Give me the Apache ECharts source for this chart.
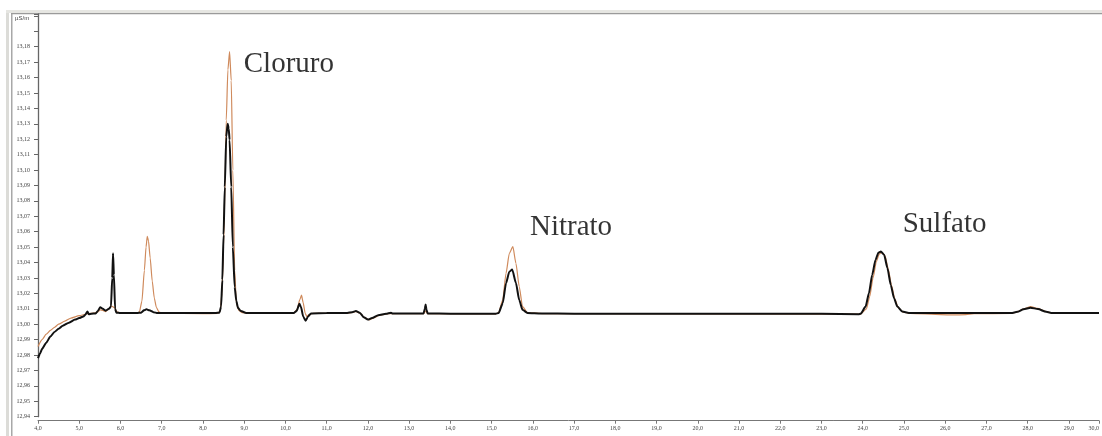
<!DOCTYPE html>
<html>
<head>
<meta charset="utf-8">
<script src="https://cdn.jsdelivr.net/npm/echarts@6/dist/echarts.min.js"></script>
<style>
html,body{margin:0;padding:0;background:#fff;}
#c{width:1102px;height:436px;}
</style>
</head>
<body>
<div id="c"></div>
<script>
// Black trace (time in min, conductivity in µS/m)
const blackTime = [4.00,4.05,4.10,4.20,4.30,4.40,4.50,4.60,4.75,4.90,5.00,5.10,5.15,5.20,5.23,5.30,5.40,5.45,5.51,5.57,5.64,5.72,5.77,5.80,5.82,5.84,5.87,5.90,6.00,6.40,6.50,6.57,6.63,6.70,6.80,6.90,8.30,8.40,8.44,8.47,8.50,8.53,8.565,8.60,8.625,8.646,8.686,8.725,8.77,8.81,8.85,8.92,9.05,9.50,10.20,10.27,10.34,10.38,10.43,10.49,10.55,10.62,11.00,11.50,11.62,11.71,11.80,11.90,12.00,12.10,12.25,12.44,12.56,12.60,13.00,13.35,13.38,13.40,13.42,13.45,14.00,15.10,15.17,15.27,15.35,15.43,15.50,15.59,15.67,15.75,15.87,16.20,17.00,20.00,23.00,23.90,23.95,24.07,24.15,24.23,24.31,24.38,24.44,24.52,24.60,24.68,24.76,24.84,24.96,25.12,26.00,27.00,27.60,27.75,27.90,28.07,28.25,28.45,28.60,29.73];
const blackValue = [12.978,12.981,12.984,12.988,12.992,12.995,12.997,12.999,13.001,13.003,13.004,13.005,13.0062,13.0082,13.0065,13.0068,13.0070,13.0085,13.0110,13.0100,13.0088,13.0100,13.0115,13.030,13.046,13.032,13.010,13.0075,13.0072,13.0072,13.0075,13.0090,13.0097,13.0090,13.0078,13.0072,13.0072,13.0075,13.0114,13.0287,13.058,13.089,13.1216,13.130,13.127,13.1195,13.089,13.050,13.024,13.015,13.0106,13.0085,13.0073,13.0072,13.0072,13.0085,13.0132,13.0110,13.0050,13.0023,13.0050,13.0070,13.0072,13.0073,13.0078,13.0085,13.0075,13.0045,13.0030,13.0040,13.0058,13.0068,13.0075,13.0070,13.0070,13.0070,13.0100,13.0128,13.0095,13.0070,13.0068,13.0068,13.0072,13.0136,13.0266,13.0340,13.0355,13.0267,13.0157,13.0093,13.0073,13.0070,13.0068,13.0068,13.0068,13.0065,13.0068,13.0114,13.0200,13.0320,13.0417,13.0464,13.0471,13.0450,13.0363,13.0255,13.0168,13.0114,13.0082,13.0073,13.0072,13.0072,13.0073,13.0080,13.0097,13.0107,13.0098,13.0080,13.0073,13.0072];

// Orange trace
const orangeTime = [4.00,4.10,4.20,4.30,4.40,4.50,4.65,4.80,5.00,5.20,5.35,5.45,5.51,5.57,5.64,5.72,5.78,5.85,5.92,6.00,6.40,6.46,6.52,6.58,6.62,6.65,6.68,6.72,6.77,6.82,6.87,6.93,7.00,8.00,8.35,8.42,8.46,8.50,8.54,8.565,8.605,8.646,8.686,8.725,8.77,8.81,8.87,8.95,9.10,10.20,10.28,10.35,10.39,10.43,10.48,10.52,10.58,10.66,11.50,11.62,11.71,11.80,11.92,12.03,12.13,12.30,12.50,13.35,13.40,13.45,15.10,15.17,15.27,15.35,15.43,15.516,15.59,15.67,15.75,15.87,16.30,23.95,24.09,24.17,24.25,24.33,24.40,24.46,24.54,24.62,24.70,24.78,24.86,24.98,25.15,25.90,26.20,26.50,26.70,27.60,27.75,27.90,28.07,28.25,28.45,28.60,29.73];
const orangeValue = [12.9855,12.990,12.9935,12.996,12.998,13.000,13.002,13.004,13.0055,13.0068,13.0072,13.0080,13.0093,13.0090,13.0082,13.0100,13.0118,13.0108,13.0080,13.0072,13.0072,13.0080,13.015,13.035,13.050,13.057,13.054,13.043,13.028,13.017,13.011,13.008,13.0072,13.0068,13.0070,13.0085,13.020,13.050,13.095,13.1324,13.165,13.1768,13.158,13.100,13.035,13.0136,13.0090,13.0075,13.0072,13.0072,13.0095,13.0160,13.0188,13.0140,13.0070,13.0050,13.0062,13.0070,13.0072,13.0076,13.0083,13.0073,13.0042,13.0028,13.0040,13.0060,13.0068,13.0068,13.0085,13.0068,13.0067,13.0075,13.0158,13.0330,13.0460,13.0503,13.0395,13.0244,13.0114,13.0075,13.0068,13.0065,13.0100,13.0180,13.0300,13.0405,13.0455,13.0466,13.0445,13.0358,13.0250,13.0162,13.0108,13.0078,13.0070,13.0062,13.0060,13.0062,13.0068,13.0070,13.0080,13.0100,13.0114,13.0102,13.0082,13.0072,13.0072];

// Peak annotations (anchor = left-middle of text, in data units)
const annoText = ['Cloruro','Nitrato','Sulfato'];
const annoTime = [8.99,15.93,24.97];
const annoValue = [13.1685,13.0630,13.0650];

const zip = (a,b) => a.map((x,i)=>[x,b[i]]);

const chart = echarts.init(document.getElementById('c'), null, {renderer:'canvas'});
const labelFont = {fontFamily:'Liberation Serif', fontSize:6, color:'#444'};
chart.setOption({
  animation:false,
  backgroundColor:'#fff',
  grid:{left:38, right:2, top:14, bottom:19.3, containLabel:false},
  xAxis:{
    type:'value', min:4, max:29.73, interval:1, offset:4,
    axisLine:{show:true, onZero:false, lineStyle:{color:'#777', width:1}},
    axisTick:{show:true, inside:false, length:3, lineStyle:{color:'#777'}},
    splitLine:{show:false},
    axisLabel:Object.assign({margin:5, alignMaxLabel:'right', showMaxLabel:true,
      formatter:v => v > 29.5 ? '30,0' : v.toFixed(1).replace('.', ',')}, labelFont)
  },
  yAxis:{
    type:'value', min:12.94, max:13.2012, interval:0.01,
    axisLine:{show:true, lineStyle:{color:'#666', width:1.3}},
    axisTick:{show:true, inside:false, length:4, lineStyle:{color:'#666'}},
    splitLine:{show:false},
    axisLabel:Object.assign({margin:8,
      formatter:v => v > 13.185 ? '' : (Math.round(v*100)/100).toFixed(2).replace('.', ',')}, labelFont)
  },
  series:[
    {type:'line', data:zip(orangeTime, orangeValue), showSymbol:false, smooth:0.2, smoothMonotone:'x',
     lineStyle:{color:'#cf8a5c', width:1.2}, z:2},
    {type:'line', data:zip(blackTime, blackValue), showSymbol:false, smooth:0.2, smoothMonotone:'x',
     lineStyle:{color:'#111', width:2}, z:3},
    {type:'scatter', data:annoTime.map((t,i)=>({value:[t, annoValue[i]], name:annoText[i]})),
     symbolSize:0, silent:true, z:4,
     label:{show:true, position:'right', distance:0, formatter:p=>p.name,
       fontFamily:'Liberation Serif', fontSize:29, color:'#000', align:'left', verticalAlign:'middle'}}
  ],
  graphic:[
    {type:'rect', shape:{x:6, y:10, width:3, height:426}, style:{fill:'#dcdcd8'}, silent:true},
    {type:'rect', shape:{x:11, y:10, width:1.5, height:426}, style:{fill:'#a8a8a8'}, silent:true},
    {type:'rect', shape:{x:6, y:10, width:1096, height:3}, style:{fill:'#e6e6e2'}, silent:true},
    {type:'rect', shape:{x:11, y:13, width:1091, height:1.2}, style:{fill:'#9a9a9a'}, silent:true},
    {type:'text', x:15, y:18, style:{text:'µS/m', fontFamily:'Liberation Sans', fontSize:6, fill:'#444', verticalAlign:'middle'}, silent:true}
  ]
});
</script>
</body>
</html>
